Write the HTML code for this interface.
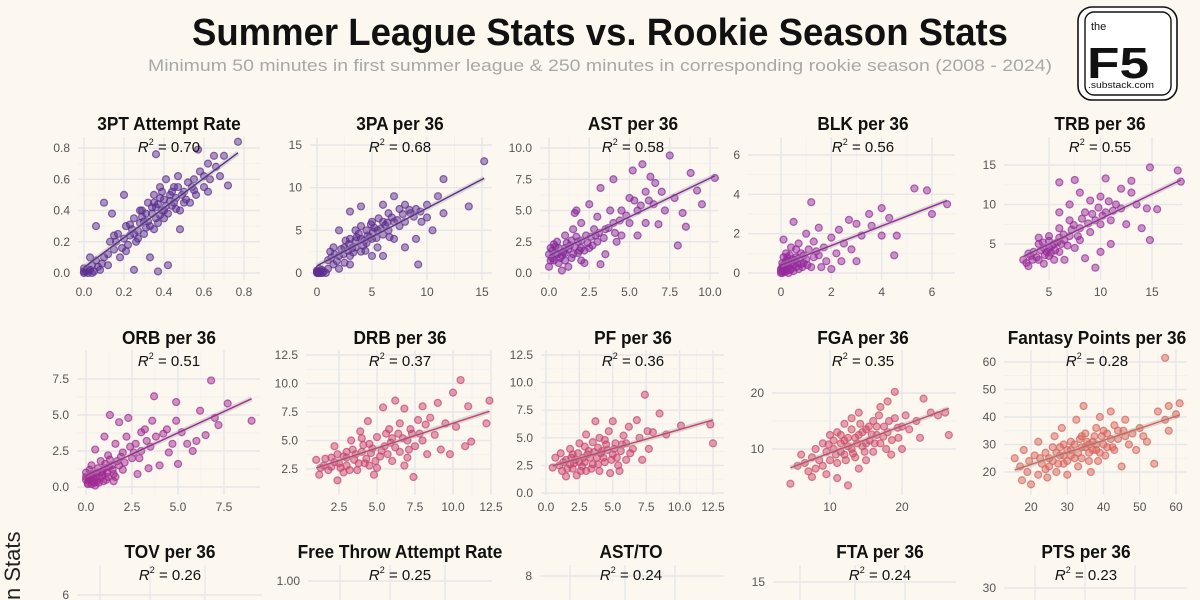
<!DOCTYPE html>
<html><head><meta charset="utf-8"><style>
html,body{margin:0;padding:0;background:#fcf8ef;}
svg{display:block;font-family:"Liberation Sans",sans-serif;}
</style></head><body>
<svg id="chart" width="1200" height="600" viewBox="0 0 1200 600" xmlns="http://www.w3.org/2000/svg">
<rect x="0" y="0" width="1200" height="600" fill="#fcf8ef"/>
<text x="600" y="45" text-anchor="middle" font-size="38" font-weight="bold" fill="#111" textLength="816" lengthAdjust="spacingAndGlyphs">Summer League Stats vs. Rookie Season Stats</text>
<text x="600" y="71" text-anchor="middle" font-size="17" fill="#a8a8a8" textLength="904" lengthAdjust="spacingAndGlyphs">Minimum 50 minutes in first summer league &amp; 250 minutes in corresponding rookie season (2008 - 2024)</text>
<g>
<rect x="1078" y="7" width="99" height="93" rx="14" fill="#fff" stroke="#111" stroke-width="1.6"/>
<rect x="1085" y="12" width="86" height="83" rx="9" fill="none" stroke="#111" stroke-width="1.4"/>
<text x="1091" y="30" font-size="11" fill="#111">the</text>
<text x="1087" y="78" font-size="44" font-weight="bold" fill="#111" textLength="62" lengthAdjust="spacingAndGlyphs">F5</text>
<text x="1088" y="88" font-size="9" fill="#111" textLength="66" lengthAdjust="spacingAndGlyphs">.substack.com</text>
</g>
<text transform="translate(20,600) rotate(-90)" font-size="22" fill="#222">n Stats</text>
<g id="panels"></g>
</svg>
<script>
// ---------- data (summer league value, rookie value) ----------
const threePtRatePoints=[[0,0],[0.01,0.01],[0.02,0],[0.03,0.02],[0,0.03],[0.05,0.01],[0.04,0.05],[0.08,0.02],[0.06,0.08],[0.1,0.1],[0.12,0.05],[0.13,0.2],[0.15,0.15],[0.17,0.25],[0.18,0.1],[0.2,0.22],[0.21,0.3],[0.22,0.18],[0.24,0.28],[0.25,0.35],[0.26,0.2],[0.28,0.32],[0.29,0.4],[0.3,0.25],[0.31,0.38],[0.32,0.45],[0.33,0.3],[0.34,0.42],[0.35,0.5],[0.36,0.35],[0.37,0.44],[0.38,0.55],[0.39,0.4],[0.4,0.47],[0.41,0.6],[0.42,0.38],[0.43,0.5],[0.44,0.43],[0.45,0.55],[0.46,0.48],[0.47,0.62],[0.48,0.4],[0.5,0.52],[0.52,0.58],[0.53,0.45],[0.55,0.6],[0.56,0.5],[0.58,0.65],[0.6,0.55],[0.62,0.7],[0.63,0.6],[0.65,0.75],[0.68,0.62],[0.7,0.75],[0.72,0.56],[0.77,0.84],[0.57,0.79],[0.36,0.76],[0.1,0.45],[0.25,0.02],[0.42,0.05],[0.37,0.01],[0.14,0.38],[0.2,0.5],[0.33,0.1],[0.48,0.28],[0.06,0.3],[0.27,0.27],[0.4,0.35],[0.35,0.28],[0.45,0.45],[0.3,0.33],[0.5,0.45],[0.38,0.48],[0.23,0.24],[0.16,0.2],[0.03,0.1],[0.55,0.53],[0.02,0.02],[0.04,0.0],[0.07,0.04],[0.0,0.01],[0.09,0.06],[0.19,0.16],[0.23,0.31],[0.27,0.22],[0.29,0.36],[0.32,0.33],[0.34,0.38],[0.36,0.42],[0.38,0.37],[0.41,0.43],[0.43,0.46],[0.44,0.52],[0.46,0.41],[0.49,0.5],[0.51,0.47],[0.39,0.52],[0.35,0.45],[0.31,0.29],[0.25,0.25],[0.21,0.14],[0.54,0.55],[0.6,0.62],[0.66,0.68],[0.4,0.4],[0.37,0.32],[0.28,0.4],[0.47,0.55],[0.12,0.12],[0.15,0.24],[0.62,0.52]];
const threePaPoints=[[0,0],[0.1,0.1],[0.2,0],[0,0.3],[0.3,0.2],[0.5,0],[1,0.5],[1,1.5],[1.5,1],[2,2],[2,0.5],[2.5,3],[3,2],[3,4],[3.5,3],[3.5,5],[4,4],[4,2.5],[4.5,5],[4.5,3.5],[5,4],[5,6],[5.5,5],[5.5,3],[6,6],[6,4.5],[6.5,7],[6.5,5],[7,6],[7,4],[7.5,7.5],[7.5,5.5],[8,6],[8,8],[8.5,7],[9,7.5],[9,4],[9.2,1],[9.5,6],[10,8],[10,6.5],[10.5,5],[11,9],[11.5,7],[11.5,11],[13.8,7.8],[15.2,13.1],[3,7.2],[4,7.8],[2,5],[1.5,3],[6,2],[7,9],[3,1],[8,3],[0.2,0.5],[0.8,0],[1.2,2.5],[2.5,1.2],[4,5.5],[5,2],[6,8],[3.5,3.8],[4.8,4.2],[2.8,2.6],[5.2,5.3],[6.2,5.6],[3.2,2.9],[2.2,2.8],[4.2,3.2],[0.1,0],[0.3,0],[0,0.1],[0.4,0.4],[0.6,0.2],[1.3,1.8],[1.8,1.4],[2.4,2.2],[2.9,3.4],[3.3,2.4],[3.8,4.6],[4.3,3.8],[4.6,4.4],[5.1,4.8],[5.4,4.1],[5.8,5.2],[6.4,5.9],[6.8,6.5],[7.3,6.2],[7.8,6.9],[8.4,7.4],[8.8,6.6],[9.4,7.2],[3.6,4.2],[2.6,3.8],[4.9,5.7],[5.6,6.4],[1.6,2.2],[4.4,2.6],[6.6,4.2]];
const astPoints=[[0,0.5],[0,1.5],[0.1,2],[0.3,1],[0.5,2.5],[0.5,1.5],[0.8,0.2],[1,2],[1,3],[1,1],[1.3,2.2],[1.5,1.5],[1.5,3.5],[1.7,5],[1.8,2.5],[2,2],[2,4],[2,1],[2.3,3],[2.5,2],[2.5,5.5],[2.8,3.5],[3,2.5],[3,4.5],[3.2,6.8],[3.5,3.5],[3.5,1.5],[3.8,5],[4,4],[4,7.5],[4.2,2.5],[4.5,5],[4.5,3],[5,6],[5,4],[5.2,8.2],[5.5,5],[5.5,3],[5.8,8.7],[6,6.5],[6,4],[6.3,7.7],[6.5,5.5],[6.8,3.9],[7,6.5],[7.2,5],[7.5,9.4],[7.8,6],[8,2.2],[8.3,4.8],[8.5,3.7],[8.8,8],[9.2,6.6],[9.5,5.5],[10.3,7.6],[0.2,1.8],[0.7,1.2],[1.2,0.5],[2.2,0.8],[3.2,0.7],[1.6,4.8],[0.4,2.1],[0.9,1.7],[1.4,2.6],[1.9,1.8],[2.6,2.9],[0.6,0.8],[1.1,2.4],[0.2,1.2],[0.4,1.6],[0.6,2],[0.8,1.4],[1,1.6],[1.2,1.9],[1.4,1.2],[1.6,2.1],[1.8,1.6],[2,2.6],[2.2,1.8],[2.4,2.4],[2.7,2.2],[2.9,3],[3.1,3.2],[3.4,2.8],[3.7,3.6],[4.1,3.2],[4.4,4.2],[4.8,4.6],[5.3,5.8],[5.7,5.4],[6.2,5.8],[6.6,7.2],[0.1,1],[0.3,2.3],[1.7,2.9]];
const blkPoints=[[0,0],[0,0.2],[0.05,0.5],[0.1,0.1],[0.1,0.8],[0.1,1.7],[0.2,0.3],[0.2,1],[0.3,0.6],[0.3,0],[0.4,1.3],[0.5,0.4],[0.5,2.6],[0.6,0.8],[0.7,0.2],[0.7,1.5],[0.8,1],[0.9,0.5],[1,0.7],[1,2],[1.1,1.2],[1.2,3.6],[1.2,0.3],[1.3,1.6],[1.5,0.9],[1.5,2.3],[1.7,1.3],[1.8,0.6],[2,1.8],[2,0.2],[2.2,1],[2.3,2.2],[2.5,1.5],[2.7,2.7],[2.8,1.2],[3,2.5],[3,0.6],[3.2,1.9],[3.5,3],[3.6,2.4],[4,3.3],[4,1.9],[4.3,2.8],[4.5,0.9],[4.6,1.9],[5.3,4.3],[5.8,4.2],[6,3],[6.6,3.5],[0.15,0.05],[0.25,0.6],[0.4,0.2],[0.6,1.2],[0.05,0.3],[0.35,0.9],[1.6,0.3],[2.4,0.6],[0.2,0.1],[0.45,0.7],[0.65,0.5],[0.85,0.3],[0.1,0.4],[0,0.1],[0.05,0],[0.1,0.25],[0.15,0.4],[0.2,0.6],[0.3,0.35],[0.35,0.15],[0.4,0.5],[0.5,0.1],[0.55,0.65],[0.7,0.75],[0.8,0.45],[0.9,0.9],[1.05,0.4],[1.3,0.8],[1.4,1.1],[0.25,0.8],[0.6,0.3]];
const trbPoints=[[2.5,3],[3,2.2],[3.5,4],[4,3],[4,5],[4.5,2.5],[4.5,4.5],[5,3.5],[5,6],[5.5,5],[5.5,3],[6,4],[6,7],[6,12.8],[6.5,5.5],[6.5,3],[7,6],[7,8],[7.5,4.5],[7.5,13.1],[8,7],[8,5.5],[8.5,9],[8.5,3.2],[9,6.5],[9,10.5],[9.5,8],[9.5,2],[10,7.5],[10,11],[10,4],[10.5,9],[10.5,13.3],[11,8],[11,5],[11.5,10],[12,9.5],[12,12],[12.5,7.5],[13,11.5],[13,13],[13.5,10],[14,7],[14.5,9.5],[14.8,5.5],[14.8,14.7],[15.5,9.4],[17.5,14.3],[17.8,12.9],[4,5.8],[5,4.5],[6,9],[7,10],[8,11.5],[3.2,3.5],[5.8,5.2],[4.8,4],[6.2,5],[7.2,6.8],[5.2,3.9],[3.8,3.3],[3.4,3],[4.2,4.2],[4.6,3.6],[5.3,4.8],[5.6,4.2],[6.4,6.2],[6.8,4.8],[7.4,7.4],[7.8,6],[8.2,8.2],[8.8,7.6],[9.2,8.8],[9.8,9.6],[10.2,8.6],[10.8,10.4],[11.2,9.2],[6,5.8],[4.4,5.2],[5,5.4],[3,3.8],[2.8,2.6]];
const orbPoints=[[0,0.5],[0,1],[0.1,0.3],[0.2,0.8],[0.3,0.2],[0.3,1.5],[0.4,0.6],[0.5,2.6],[0.6,1],[0.7,0.3],[0.8,1.8],[0.9,0.8],[1,1.3],[1,3.5],[1.1,0.5],[1.2,2.2],[1.3,5],[1.4,1.5],[1.5,0.9],[1.6,3],[1.7,1.8],[1.8,4.5],[2,2.4],[2,1.2],[2.2,3.5],[2.3,4.8],[2.5,2],[2.7,3],[2.8,0.9],[3,2.5],[3,3.8],[3.2,4],[3.4,1.3],[3.5,2.8],[3.6,4.6],[3.7,6.3],[3.8,3.5],[4,1.5],[4.2,3.7],[4.4,4],[4.5,2.4],[4.7,3],[4.9,4.6],[4.9,5.9],[5,1.6],[5.2,3.8],[5.5,3],[5.8,2.5],[6,3.2],[6.2,5.3],[6.5,3.6],[6.8,7.4],[7,4.8],[7.2,4.3],[7.7,5.8],[9,4.6],[0.5,0.1],[1.5,0.4],[0.2,1.2],[0.6,0.4],[0.9,1.1],[1.2,0.7],[0.4,0.9],[1.8,1.5],[0,0.7],[0.1,0.2],[0.2,0.5],[0.3,0.9],[0.45,0.3],[0.55,0.7],[0.65,1.3],[0.75,0.6],[0.85,1],[0.95,0.4],[1.05,1.6],[1.15,1],[1.3,1.9],[1.45,1.2],[1.6,0.7],[1.9,2.1],[2.1,1.7],[2.4,2.8],[2.6,2.4],[2.9,2],[3.3,3.2],[0.15,0.6],[0.35,0.4],[1.25,1.4]];
const drbPoints=[[1,3.3],[1.2,2],[1.5,2.8],[1.8,2.4],[2,3.5],[2.2,4.5],[2.4,1.5],[2.5,3],[2.8,2.2],[3,4],[3,2.8],[3.3,5],[3.5,3.3],[3.7,2.4],[3.9,5.8],[4,4],[4.2,3],[4.4,6.7],[4.5,4.7],[4.8,2],[5,5.3],[5.2,3.6],[5.4,7.9],[5.5,4.5],[5.8,6],[6,3.2],[6,5.2],[6.2,8.5],[6.5,6.5],[6.5,4],[6.8,7.8],[7,5],[7,3.5],[7.2,6],[7.4,1.8],[7.5,4.5],[7.7,6.8],[8,8],[8,5],[8.3,3.8],[8.5,7],[8.8,5.5],[9,8.3],[9.2,4.2],[9.5,6.5],[9.8,3.8],[10,9.2],[10.2,6.2],[10.5,10.3],[10.8,4.5],[11,8],[11.2,4.9],[12.2,6.5],[12.4,8.5],[5,2.6],[3,3.5],[4,5.2],[6.8,2.8],[2.6,2.6],[3.6,3.8],[4.6,3.9],[5.6,5.6],[2,2.7],[1.6,3.4],[2.2,3.1],[2.8,3.6],[3.2,2.4],[3.4,4.2],[3.8,3],[4.1,4.6],[4.3,3.4],[4.7,4.3],[4.9,3.2],[5.3,4.1],[5.7,3.8],[5.9,4.8],[6.2,4.4],[6.4,5.6],[6.7,5.2],[7.1,4.2],[7.3,5.6],[7.8,5.6],[8.2,6.4],[2.4,3.8],[1.3,2.6],[4.5,2.8]];
const pfPoints=[[0.7,3.2],[1,2.5],[1.2,2],[1.5,3],[1.8,4],[2,2.2],[2,3.5],[2.3,1.6],[2.5,2.8],[2.5,4.5],[2.8,3.2],[3,2],[3,5.3],[3.2,3.8],[3.5,2.6],[3.5,4.6],[3.7,6.5],[3.8,3.2],[4,2],[4,5],[4.2,3.8],[4.4,2.8],[4.5,4.4],[4.7,5.6],[4.8,1.8],[5,3.5],[5,6.5],[5.2,4.5],[5.4,2.5],[5.6,3.8],[5.8,5.2],[6,3],[6,4.5],[6.2,6],[6.5,4],[6.8,6.6],[7,5],[7.2,3],[7.4,8.9],[7.6,5.6],[7.7,4],[8,5.5],[8.5,7.2],[9,5.3],[10.1,6.1],[12.3,6.2],[12.5,4.5],[1.5,1.5],[2.2,3],[3.3,3.2],[4.1,3.6],[5.5,2],[0.5,2.3],[2.7,2.4],[3.9,4.1],[4.9,3],[1.8,2.6],[1.3,2.8],[1.6,2.2],[1.9,3.2],[2.1,2.7],[2.4,3.6],[2.6,2],[2.9,2.8],[3.1,3.5],[3.4,2.2],[3.6,3.7],[3.9,2.6],[4.3,3.2],[4.6,3.9],[5.1,4],[5.3,3.2],[5.7,4.4],[6.3,3.6],[2.9,4.2],[1.1,3.6],[4.4,4.8]];
const fgaPoints=[[4.5,3.8],[5.5,7],[6,9],[6.5,7.5],[7,6],[7.5,8.5],[8,10],[8,6.5],[8.5,8],[9,11],[9,7],[9.5,9.5],[10,12.5],[10,8],[10.5,10],[11,13],[11,7.5],[11.5,11],[12,9],[12,14.5],[12.5,3.5],[12.5,12],[13,10],[13,15.5],[13.5,8.5],[14,12.5],[14,16.5],[14.5,10.5],[15,13.5],[15,8],[15.5,11.5],[16,15],[16,9.5],[16.5,12.5],[17,17.5],[17,11],[17.5,14],[18,13],[18,18.5],[18.5,9],[19,15.5],[19,20.2],[19.5,12],[20,14],[20,10],[20.5,16],[21,13.5],[22,15],[22.5,12],[23,19],[24,16.5],[25,16],[26,16.5],[26.5,12.5],[9.5,5.5],[11,4.8],[7.5,5],[14,6.5],[12,11.5],[13.5,12],[15,11],[16.5,14],[11.5,9.5],[14.5,13],[10.5,11.5],[11.5,12.5],[12.5,10.5],[13,13.5],[13.8,11],[14.2,14.5],[14.8,9.5],[15.4,14],[15.8,12.6],[16.2,11],[16.8,16],[17.4,12.2],[18.2,15],[18.6,11.6],[19.4,13.8],[12.2,8],[10.8,9],[9.8,10.8],[13.2,9.2],[17.8,10]];
const fantasyPoints=[[15.5,25],[17,22],[17.5,17],[18,28],[19,20],[19.5,24],[20,15.5],[21,26],[22,19],[22,31],[23,23],[24,27],[24.5,18],[25,22],[26,29],[26.5,33],[27,20],[28,26],[28.5,36],[29,23],[30,28],[30,19],[31,31],[32,25],[32.5,39],[33,22],[34,29],[34.5,44],[35,34],[36,27],[36.5,20],[37,31],[38,36],[38.5,24],[39,40],[40,30],[40.5,26],[41,34],[42,42],[42.5,29],[43,37],[44,32],[45,22],[45.5,35],[46,39],[47,30],[48,34],[49,28],[50,36],[51,33],[52,31],[54,23],[55,42],[57,61.5],[57,39],[58,35],[58,44],[60,41],[61,45],[29,30],[34,33],[38,28],[27,27],[31,26],[36,30],[25,25],[26,24],[28,29],[29,26],[30,24],[31,28],[32,30],[33,27],[33.5,32],[34,25],[35,29],[35.5,31],[36,24],[37,28],[37.5,33],[38,30],[39,27],[39.5,33],[40,35],[41,29],[42,32],[43,28],[44,35],[46,33],[27.5,23],[24,21],[22.5,25]];

// tick labels
const ticks3ptX=[0,0.2,0.4,0.6,0.8], ticks3ptY=[0,0.2,0.4,0.6,0.8];
const ticks3paX=[0,5,10,15], ticks3paY=[0,5,10,15];
const ticksAstX=[0,2.5,5,7.5,10], ticksAstY=[0,2.5,5,7.5,10];
const ticksBlkX=[0,2,4,6], ticksBlkY=[0,2,4,6];
const ticksTrbX=[5,10,15], ticksTrbY=[5,10,15];
const ticksOrbX=[0,2.5,5,7.5], ticksOrbY=[0,2.5,5,7.5];
const ticksDrbX=[2.5,5,7.5,10,12.5], ticksDrbY=[2.5,5,7.5,10,12.5];
const ticksPfX=[0,2.5,5,7.5,10,12.5], ticksPfY=[0,2.5,5,7.5,10,12.5];
const ticksFgaX=[10,20], ticksFgaY=[10,20];
const ticksFanX=[20,30,40,50,60], ticksFanY=[20,30,40,50,60];

const panelTitles=["3PT Attempt Rate","3PA per 36","AST per 36","BLK per 36","TRB per 36","ORB per 36","DRB per 36","PF per 36","FGA per 36","Fantasy Points per 36","TOV per 36","Free Throw Attempt Rate","AST/TO","FTA per 36","PTS per 36"];
const panelR2=["0.70","0.68","0.58","0.56","0.55","0.51","0.37","0.36","0.35","0.28","0.26","0.25","0.24","0.24","0.23"];

const NS="http://www.w3.org/2000/svg";
const root=document.getElementById('panels');
function mk(tag,attrs,parent){const e=document.createElementNS(NS,tag);for(const k in attrs)e.setAttribute(k,attrs[k]);(parent||root).appendChild(e);return e;}
function fmt(v,dec){return v.toFixed(dec);}

function drawPanel(i,cfg){
  const g=mk('g',{});
  
  
  const sx=v=>cfg.xm[1]+(v-cfg.xm[0])*(cfg.xm[3]-cfg.xm[1])/(cfg.xm[2]-cfg.xm[0]);
  const sy=v=>cfg.ym[1]+(v-cfg.ym[0])*(cfg.ym[3]-cfg.ym[1])/(cfg.ym[2]-cfg.ym[0]);
  const [L,R,T,B]=cfg.box;
  if(cfg.xt){
    for(let k=0;k<cfg.xt.length;k++){
      const v=cfg.xt[k];
      const ln=mk('line',{x1:sx(v),x2:sx(v),y1:T,y2:B,stroke:'#e7e6ea','stroke-width':1.4},g);
      
      
      if(k<cfg.xt.length-1){const m=(v+cfg.xt[k+1])/2;mk('line',{x1:sx(m),x2:sx(m),y1:T,y2:B,stroke:'#efeef0','stroke-width':0.7},g);}
      const t=mk('text',{x:sx(v),y:B+16,'text-anchor':'middle','font-size':12,fill:'#555'},g);
      
      
      t.textContent=fmt(v,cfg.xd);
    }
  }
  for(let k=0;k<cfg.yt.length;k++){
    const v=cfg.yt[k];
    const ln=mk('line',{x1:L,x2:R,y1:sy(v),y2:sy(v),stroke:'#e7e6ea','stroke-width':1.4},g);
    
    
    if(k<cfg.yt.length-1){const m=(v+cfg.yt[k+1])/2;mk('line',{x1:L,x2:R,y1:sy(m),y2:sy(m),stroke:'#efeef0','stroke-width':0.7},g);}
    const t=mk('text',{x:L-8,y:sy(v)+4,'text-anchor':'end','font-size':12,fill:'#555'},g);
    
    
    t.textContent=fmt(v,cfg.yd);
  }
  if(cfg.pts){
    const pg=mk('g',{},g);
    for(const p of cfg.pts){
      const c=mk('circle',{cx:sx(p[0]),cy:sy(p[1]),r:3.5,fill:cfg.color,'fill-opacity':0.5,stroke:cfg.color,'stroke-opacity':0.7,'stroke-width':1.2},pg);
      
      
    }
    const n=cfg.pts.length;let mx=0,my=0;cfg.pts.forEach(p=>{mx+=p[0];my+=p[1];});mx/=n;my/=n;
    let sxy=0,sxx=0;cfg.pts.forEach(p=>{sxy+=(p[0]-mx)*(p[1]-my);sxx+=(p[0]-mx)**2;});
    const b=sxy/sxx,a=my-b*mx;
    const xs=cfg.pts.map(p=>p[0]);const x0=Math.min(...xs),x1=Math.max(...xs);
    mk('line',{x1:sx(x0),y1:sy(a+b*x0),x2:sx(x1),y2:sy(a+b*x1),stroke:'#aaa','stroke-opacity':0.4,'stroke-width':5},g);
    const rl=mk('line',{x1:sx(x0),y1:sy(a+b*x0),x2:sx(x1),y2:sy(a+b*x1),stroke:cfg.color,'stroke-width':1.4},g);
    
    
  }
  const tt=mk('text',{x:cfg.cx,y:cfg.ty,'text-anchor':'middle','font-size':18,'font-weight':'bold',fill:'#111'},g);
  
  
  tt.textContent=panelTitles[i];
  const w=tt.getComputedTextLength();
  tt.setAttribute('textLength',(w*0.96).toFixed(1));
  tt.setAttribute('lengthAdjust','spacingAndGlyphs');
  const rt=mk('text',{x:cfg.cx,y:cfg.ty+22,'text-anchor':'middle','font-size':15,fill:'#111'},g);
  
  
  const t1=mk('tspan',{'font-style':'italic'},rt);t1.textContent='R';
  const t2=mk('tspan',{dy:-7,'font-size':9},rt);t2.textContent='2';
  const t3=mk('tspan',{dy:7},rt);t3.textContent=' = '+panelR2[i];
}

drawPanel(0,{pts:threePtRatePoints,color:'#5a2d8f',xm:[0,84,0.8,244],ym:[0,273,0.8,148],xt:ticks3ptX,yt:ticks3ptY,xd:1,yd:1,box:[78,260,137,280],cx:169,ty:130});
drawPanel(1,{pts:threePaPoints,color:'#5e2d90',xm:[0,317,15,482],ym:[0,273,15,145],xt:ticks3paX,yt:ticks3paY,xd:0,yd:0,box:[310,492,137,280],cx:400,ty:130});
drawPanel(2,{pts:astPoints,color:'#86299a',xm:[0,549,10,710],ym:[0,273,10,148],xt:ticksAstX,yt:ticksAstY,xd:1,yd:1,box:[540,719,137,280],cx:633,ty:130});
drawPanel(3,{pts:blkPoints,color:'#962a9c',xm:[0,781,6,932],ym:[0,273,6,155],xt:ticksBlkX,yt:ticksBlkY,xd:0,yd:0,box:[748,955,137,280],cx:863,ty:130});
drawPanel(4,{pts:trbPoints,color:'#982a9a',xm:[5,1049,15,1152],ym:[5,244,15,165],xt:ticksTrbX,yt:ticksTrbY,xd:0,yd:0,box:[1004,1183,137,280],cx:1100,ty:130});
drawPanel(5,{pts:orbPoints,color:'#a02a92',xm:[0,86,7.5,224],ym:[0,487,7.5,379],xt:ticksOrbX,yt:ticksOrbY,xd:1,yd:1,box:[77,260,350,495],cx:169,ty:344});
drawPanel(6,{pts:drbPoints,color:'#c8426f',xm:[2.5,339,12.5,491],ym:[2.5,469,12.5,355],xt:ticksDrbX,yt:ticksDrbY,xd:1,yd:1,box:[306,492,350,495],cx:400,ty:344});
drawPanel(7,{pts:pfPoints,color:'#c8436d',xm:[0,546,12.5,713],ym:[0,493,12.5,355],xt:ticksPfX,yt:ticksPfY,xd:1,yd:1,box:[541,724,350,495],cx:633,ty:344});
drawPanel(8,{pts:fgaPoints,color:'#cc4a6a',xm:[10,830,20,902],ym:[10,449,20,393],xt:ticksFgaX,yt:ticksFgaY,xd:0,yd:0,box:[772,956,350,495],cx:863,ty:344});
drawPanel(9,{pts:fantasyPoints,color:'#d6645b',xm:[20,1031,60,1176],ym:[20,472,60,362],xt:ticksFanX,yt:ticksFanY,xd:0,yd:0,box:[1004,1187,350,495],cx:1097,ty:344});

const row3TickValues=[6,1.00,8,15,30];
const row3TickDec=[0,2,0,0,0];
const row3Cfg=[{cx:170,L:77,R:262,gy:595,vx:[100,150,205]},{cx:400,L:308,R:492,gy:581,vx:[340,390,445]},{cx:631,L:540,R:724,gy:576,vx:[570,625,675]},{cx:880,L:773,R:956,gy:582,vx:[800,855,905]},{cx:1086,L:1004,R:1187,gy:588,vx:[1035,1085,1135]}];
row3Cfg.forEach((c,k)=>{
  const ym=[row3TickValues[k],c.gy,row3TickValues[k]+1,c.gy-1];
  const g=mk('g',{});
  
  
  c.vx.forEach(x=>mk('line',{x1:x,x2:x,y1:565,y2:600,stroke:'#e7e6ea','stroke-width':1.4},g));
  drawPanel(10+k,{pts:null,color:'#d66',xm:[0,0,1,1],ym:ym,xt:null,yt:[row3TickValues[k]],xd:0,yd:row3TickDec[k],box:[c.L,c.R,565,600],cx:c.cx,ty:558});
});
</script>
</body></html>
